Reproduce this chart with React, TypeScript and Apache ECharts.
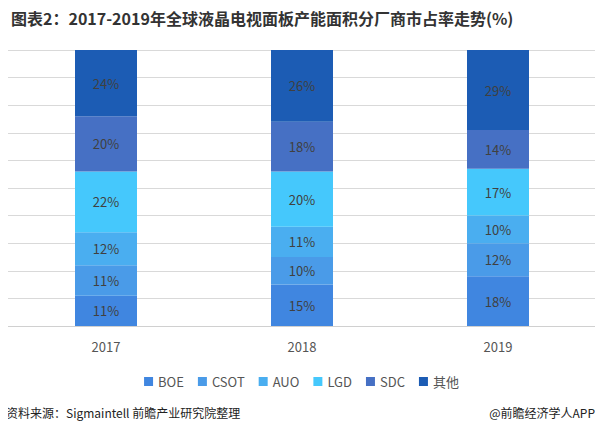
import { useEffect, useRef } from 'react';
import * as echarts from 'echarts';

const years = ['2017', '2018', '2019'];
const seriesNames = ['BOE', 'CSOT', 'AUO', 'LGD', 'SDC', '其他'];
const values = [
    [11, 15, 18],
    [11, 10, 12],
    [12, 11, 10],
    [22, 20, 17],
    [20, 18, 14],
    [24, 26, 29],
];
const colors = ['#4086e0', '#4a9be8', '#4aaef0', '#45c8fc', '#4670c4', '#1c5cb4'];

export default function App() {
    const chartRef = useRef<HTMLDivElement>(null);

    useEffect(() => {
        const chart = echarts.init(chartRef.current!, null, { renderer: 'svg' });
        const font = 'Microsoft YaHei, Noto Sans CJK SC, sans-serif';
        chart.setOption({
            animation: false,
            textStyle: { fontFamily: font },
            title: {
                text: '图表2：2017-2019年全球液晶电视面板产能面积分厂商市占率走势(%)',
                left: 6, top: 5,
                textStyle: { fontSize: 16, fontWeight: 'bold', color: '#333' },
            },
            graphic: [
                { type: 'text', left: 6, top: 406, style: { text: '资料来源：Sigmaintell 前瞻产业研究院整理', fontSize: 12, fill: '#222', fontFamily: font } },
                { type: 'text', right: 8, top: 406, style: { text: '@前瞻经济学人APP', fontSize: 12, fill: '#222', fontFamily: font } },
            ],
            legend: {
                bottom: 44, left: 'center', itemWidth: 9, itemHeight: 9, itemGap: 14,
                icon: 'rect',
                textStyle: { fontSize: 13, color: '#555' },
                data: seriesNames,
            },
            grid: { left: 8, right: 7, top: 50, bottom: 111 },
            xAxis: {
                type: 'category', data: years,
                axisTick: { show: false },
                axisLine: { lineStyle: { color: '#d0d0d0' } },
                axisLabel: { fontSize: 13, color: '#555', margin: 14 },
            },
            yAxis: {
                type: 'value', min: 0, max: 100, interval: 10,
                axisLabel: { show: false },
                splitLine: { lineStyle: { color: '#d9d9d9' } },
            },
            series: seriesNames.map((name, i) => ({
                name, type: 'bar', stack: 'total', barWidth: 62,
                itemStyle: { color: colors[i] },
                label: { show: true, formatter: '{c}%', color: '#404040', fontSize: 13 },
                data: values[i],
            })),
        });
        return () => chart.dispose();
    }, []);

    return <div ref={chartRef} style={{ width: 603, height: 437, margin: -8 }} />;
}
